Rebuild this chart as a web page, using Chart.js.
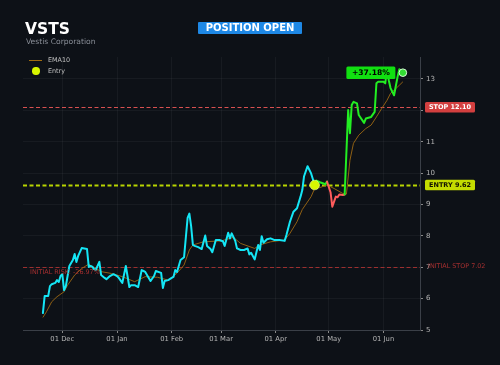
<!DOCTYPE html>
<html>
<head>
<meta charset="utf-8">
<script src="https://cdn.jsdelivr.net/npm/chart.js@4.4.1/dist/chart.umd.min.js"></script>
<style>
  html, body { margin: 0; padding: 0; background: #0d1117; }
  #wrap { position: relative; width: 500px; height: 365px; overflow: hidden; font-family: "DejaVu Sans", sans-serif; }
  #chart { position: absolute; left: 0; top: 0; }
  .abs { position: absolute; white-space: nowrap; line-height: 1; }
  #title { left: 25px; top: 21.5px; font-size: 15.5px; font-weight: bold; color: #ffffff; }
  #subtitle { left: 26px; top: 37.5px; font-size: 7.6px; color: #8a8f98; }
  #badge { left: 198px; top: 21.7px; width: 104px; height: 12.6px; line-height: 12.6px; background: #1e88e5; color: #fff; font-weight: bold; font-size: 10px; text-align: center; border-radius: 1px; }
  .legline { position: absolute; left: 29px; top: 59.8px; width: 13px; height: 1px; background: #a06c10; }
  .legdot { position: absolute; left: 32.3px; top: 67.3px; width: 7.4px; height: 7.4px; border-radius: 50%; background: #d7f500; }
  .legtxt { position: absolute; left: 48px; font-size: 6.4px; color: #c0c0c0; }
</style>
</head>
<body>
<div id="wrap">
  <canvas id="chart" width="500" height="365"></canvas>
  <div id="title" class="abs">VSTS</div>
  <div id="subtitle" class="abs">Vestis Corporation</div>
  <div id="badge" class="abs">POSITION OPEN</div>
  <div class="legline"></div>
  <div class="legtxt abs" style="top:56.8px">EMA10</div>
  <div class="legdot"></div>
  <div class="legtxt abs" style="top:67.8px">Entry</div>
</div>
<script>
// ---------------- DATA ----------------
const priceDates = [
  '2024-11-20','2024-11-21','2024-11-23','2024-11-24','2024-11-25','2024-11-27','2024-11-28','2024-11-29','2024-11-30',
  '2024-12-01','2024-12-02','2024-12-03','2024-12-04','2024-12-05','2024-12-07','2024-12-08','2024-12-09','2024-12-10',
  '2024-12-12','2024-12-15','2024-12-16','2024-12-17','2024-12-18','2024-12-19','2024-12-20','2024-12-22','2024-12-23',
  '2024-12-25','2024-12-26','2024-12-28','2024-12-30',
  '2025-01-01','2025-01-02','2025-01-04','2025-01-06','2025-01-08','2025-01-09','2025-01-11','2025-01-13','2025-01-15',
  '2025-01-16','2025-01-17','2025-01-20','2025-01-22','2025-01-23','2025-01-26','2025-01-27','2025-01-28','2025-01-30',
  '2025-02-01','2025-02-02','2025-02-03','2025-02-04','2025-02-06','2025-02-08','2025-02-10','2025-02-11','2025-02-12',
  '2025-02-13','2025-02-14','2025-02-16','2025-02-18','2025-02-20','2025-02-21','2025-02-23','2025-02-24','2025-02-26',
  '2025-02-28',
  '2025-03-02','2025-03-03','2025-03-05','2025-03-06','2025-03-07','2025-03-09','2025-03-10','2025-03-12','2025-03-14',
  '2025-03-16','2025-03-17','2025-03-18','2025-03-20','2025-03-22','2025-03-23','2025-03-24','2025-03-25','2025-03-27',
  '2025-03-29','2025-03-31',
  '2025-04-03','2025-04-06','2025-04-07','2025-04-09','2025-04-11','2025-04-13','2025-04-15','2025-04-16','2025-04-17',
  '2025-04-19','2025-04-21','2025-04-23','2025-04-24','2025-04-26','2025-04-28','2025-04-29','2025-04-30',
  '2025-05-02','2025-05-03','2025-05-05','2025-05-06','2025-05-07','2025-05-09','2025-05-10','2025-05-12','2025-05-13',
  '2025-05-14','2025-05-15','2025-05-17','2025-05-18','2025-05-21','2025-05-22','2025-05-25','2025-05-27','2025-05-28',
  '2025-05-29',
  '2025-06-01','2025-06-02','2025-06-03','2025-06-04','2025-06-05','2025-06-07','2025-06-09','2025-06-10','2025-06-12'
];
const priceValues = [
  5.54,6.08,6.08,6.40,6.46,6.50,6.59,6.53,6.72,
  6.78,6.27,6.40,6.72,7.04,7.23,7.42,7.17,7.36,
  7.61,7.58,7.01,7.04,7.02,6.94,6.92,7.17,6.75,
  6.66,6.62,6.72,6.78,
  6.72,6.66,6.50,7.04,6.37,6.43,6.43,6.37,6.91,
  6.88,6.85,6.56,6.72,6.88,6.82,6.34,6.56,6.59,
  6.66,6.69,6.91,6.85,7.23,7.32,8.57,8.71,8.31,
  7.71,7.68,7.64,7.58,8.01,7.68,7.58,7.48,7.87,
  7.87,
  7.83,7.68,8.10,7.92,8.08,7.84,7.60,7.55,7.55,
  7.60,7.41,7.46,7.25,7.71,7.55,7.99,7.78,7.89,
  7.92,7.87,
  7.87,7.84,8.03,8.45,8.77,8.88,9.25,9.46,9.90,
  10.22,9.99,9.62,9.76,9.71,9.67,9.64,9.73,
  9.39,8.93,9.25,9.23,9.32,9.30,9.32,12.01,11.27,
  12.17,12.27,12.22,11.85,11.60,11.74,11.79,11.95,12.86,
  12.91,
  12.91,12.86,13.33,12.96,12.71,12.48,13.07,13.31,13.20
];
const emaDates = [
  '2024-11-20','2024-11-22','2024-11-25','2024-11-28','2024-12-02','2024-12-04','2024-12-08','2024-12-12','2024-12-16',
  '2024-12-18','2024-12-23','2024-12-29','2025-01-04','2025-01-11','2025-01-17','2025-01-24','2025-01-30','2025-02-04',
  '2025-02-08','2025-02-11','2025-02-13','2025-02-19','2025-03-01','2025-03-08','2025-03-12','2025-03-20','2025-03-23',
  '2025-03-29','2025-04-06','2025-04-09','2025-04-13','2025-04-16','2025-04-21','2025-04-23','2025-04-26','2025-04-30',
  '2025-05-04','2025-05-09','2025-05-11','2025-05-13','2025-05-15','2025-05-18','2025-05-22','2025-05-25','2025-05-28',
  '2025-05-31','2025-06-03','2025-06-05','2025-06-07','2025-06-10','2025-06-12'
];
const emaValues = [
  5.40,5.58,5.90,6.06,6.22,6.43,6.75,6.96,7.10,
  7.02,6.86,6.80,6.70,6.54,6.70,6.68,6.59,6.81,
  7.07,7.55,7.71,7.81,7.84,7.95,7.76,7.60,7.71,
  7.81,7.87,8.08,8.45,8.84,9.25,9.51,9.54,9.62,
  9.51,9.35,9.33,10.41,10.95,11.21,11.42,11.53,11.79,
  12.06,12.32,12.54,12.64,12.80,12.91
];
const tickDates = ['2024-12-01','2025-01-01','2025-02-01','2025-03-01','2025-04-01','2025-05-01','2025-06-01'];
const tickLabels = ['01 Dec','01 Jan','01 Feb','01 Mar','01 Apr','01 May','01 Jun'];
const yTicks = [5,6,7,8,9,10,11,12,13];
const entryDate = '2025-04-23';
const entryPrice = 9.62;
const stopPrice = 12.10;
const initialStop = 7.02;
const pnlPct = 37.18;
const initialRiskPct = -26.97;
const axisStart = '2024-11-09';
const axisEnd = '2025-06-21';

// ---------------- HELPERS ----------------
const BASE = Date.UTC(2024, 11, 1);
function dayOf(s) {
  const p = s.split('-').map(Number);
  return (Date.UTC(p[0], p[1] - 1, p[2]) - BASE) / 86400000;
}
const entryDay = dayOf(entryDate);
const pricePts = priceDates.map((d, i) => ({ x: dayOf(d), y: priceValues[i] }));
const emaPts = emaDates.map((d, i) => ({ x: dayOf(d), y: emaValues[i] }));
const lastPt = pricePts[pricePts.length - 1];
const tickDays = tickDates.map(dayOf);

const CYAN = '#14e6f5', GREEN = '#22ee22', RED = '#ff5c5c';
const FONT = '"DejaVu Sans", sans-serif';

function rrect(ctx, x, y, w, h, r) {
  ctx.beginPath();
  ctx.moveTo(x + r, y);
  ctx.lineTo(x + w - r, y); ctx.quadraticCurveTo(x + w, y, x + w, y + r);
  ctx.lineTo(x + w, y + h - r); ctx.quadraticCurveTo(x + w, y + h, x + w - r, y + h);
  ctx.lineTo(x + r, y + h); ctx.quadraticCurveTo(x, y + h, x, y + h - r);
  ctx.lineTo(x, y + r); ctx.quadraticCurveTo(x, y, x + r, y);
  ctx.closePath();
}

const refPlugin = {
  id: 'refPlugin',
  beforeDatasetsDraw(chart) {
    const ctx = chart.ctx, a = chart.chartArea, ys = chart.scales.y;
    function hline(v, color, w, dash) {
      const y = Math.round(ys.getPixelForValue(v)) + 0.5;
      ctx.save();
      ctx.strokeStyle = color; ctx.lineWidth = w; ctx.setLineDash(dash);
      ctx.beginPath(); ctx.moveTo(a.left, y); ctx.lineTo(a.right, y); ctx.stroke();
      ctx.restore();
    }
    hline(initialStop, '#9c2f2f', 1, [4, 2.5]);
    hline(stopPrice, '#d85050', 1, [4, 2.5]);
    hline(entryPrice, '#b8d400', 1.8, [4, 2.5]);
  },
  afterDatasetsDraw(chart) {
    const ctx = chart.ctx, a = chart.chartArea, ys = chart.scales.y, xs = chart.scales.x;
    ctx.save();
    // initial risk / initial stop texts
    const yi = ys.getPixelForValue(initialStop);
    ctx.fillStyle = 'rgba(175,50,50,0.95)';
    ctx.font = '6.4px ' + FONT;
    ctx.textBaseline = 'middle'; ctx.textAlign = 'left';
    ctx.fillText('INITIAL RISK: ' + initialRiskPct.toFixed(2) + '%', a.left + 7, yi + 6);
    ctx.fillText('INITIAL STOP ' + initialStop.toFixed(2), a.right + 8, yi);
    // right side boxes
    function box(v, text, fill, txtColor) {
      const y = ys.getPixelForValue(v);
      ctx.fillStyle = fill;
      rrect(ctx, a.right + 5, y - 5.3, 50, 10.6, 1.5);
      ctx.fill();
      ctx.fillStyle = txtColor;
      ctx.font = 'bold 6.5px ' + FONT;
      ctx.textAlign = 'center'; ctx.textBaseline = 'middle';
      ctx.fillText(text, a.right + 30, y + 0.3);
    }
    box(stopPrice, 'STOP ' + stopPrice.toFixed(2), '#d33f3f', '#ffffff');
    box(entryPrice, 'ENTRY ' + entryPrice.toFixed(2), '#c4dc00', '#141400');
    // pnl box
    const px = xs.getPixelForValue(lastPt.x), py = ys.getPixelForValue(lastPt.y);
    ctx.fillStyle = '#11e011';
    rrect(ctx, px - 56.5, py - 6.2, 49, 12.4, 1.5);
    ctx.fill();
    ctx.fillStyle = '#000000';
    ctx.font = 'bold 7.6px ' + FONT;
    ctx.textAlign = 'center'; ctx.textBaseline = 'middle';
    ctx.fillText('+' + pnlPct.toFixed(2) + '%', px - 32, py + 0.4);
    ctx.restore();
  }
};

new Chart(document.getElementById('chart'), {
  type: 'line',
  data: {
    datasets: [
      {
        label: 'Entry', type: 'scatter', data: [{ x: entryDay, y: entryPrice }], order: 0,
        pointRadius: 4.8, backgroundColor: '#d7f500', borderColor: 'rgba(240,255,170,0.9)', borderWidth: 0.6
      },
      {
        label: 'Last', type: 'scatter', data: [lastPt], order: 0,
        pointRadius: 3.8, backgroundColor: '#33dd33', borderColor: '#d8ffd8', borderWidth: 1
      },
      {
        label: 'Price', data: pricePts, order: 1, borderWidth: 2, pointRadius: 0, tension: 0,
        borderJoinStyle: 'round', borderCapStyle: 'round', borderColor: CYAN,
        segment: {
          borderColor: c => c.p0.parsed.x < entryDay ? CYAN : (c.p1.parsed.y >= entryPrice ? GREEN : RED)
        }
      },
      {
        label: 'EMA10', data: emaPts, order: 2, borderWidth: 1, pointRadius: 0, tension: 0,
        borderColor: 'rgba(150,100,20,0.95)'
      }
    ]
  },
  options: {
    responsive: false, animation: false, devicePixelRatio: 1,
    layout: { padding: { left: 23, top: 57, right: 0, bottom: 0 } },
    plugins: { legend: { display: false }, tooltip: { enabled: false } },
    scales: {
      x: {
        type: 'linear', position: 'bottom', min: dayOf(axisStart) - 0.27, max: dayOf(axisEnd) + 0.7,
        afterBuildTicks: s => { s.ticks = tickDays.map(v => ({ value: v })); },
        afterFit: s => { s.height = 35; },
        ticks: {
          callback: v => { const i = tickDays.indexOf(v); return i >= 0 ? tickLabels[i] : ''; },
          color: '#b4b4b4', font: { family: FONT, size: 6.8 }, padding: 2, maxRotation: 0, autoSkip: false
        },
        grid: { color: 'rgba(255,255,255,0.045)', tickColor: '#8a8a8a', tickLength: 3, lineWidth: 1 },
        border: { display: true, color: '#3a3f47', width: 1 }
      },
      y: {
        type: 'linear', position: 'right', min: 5, max: 13.7,
        afterBuildTicks: s => { s.ticks = yTicks.map(v => ({ value: v })); },
        afterFit: s => { s.width = 80; },
        ticks: { color: '#b4b4b4', font: { family: FONT, size: 7 }, padding: 3 },
        grid: { color: 'rgba(255,255,255,0.045)', tickColor: '#8a8a8a', tickLength: 3, lineWidth: 1 },
        border: { display: true, color: '#3a3f47', width: 1 }
      }
    }
  },
  plugins: [refPlugin]
});
</script>
</body>
</html>
